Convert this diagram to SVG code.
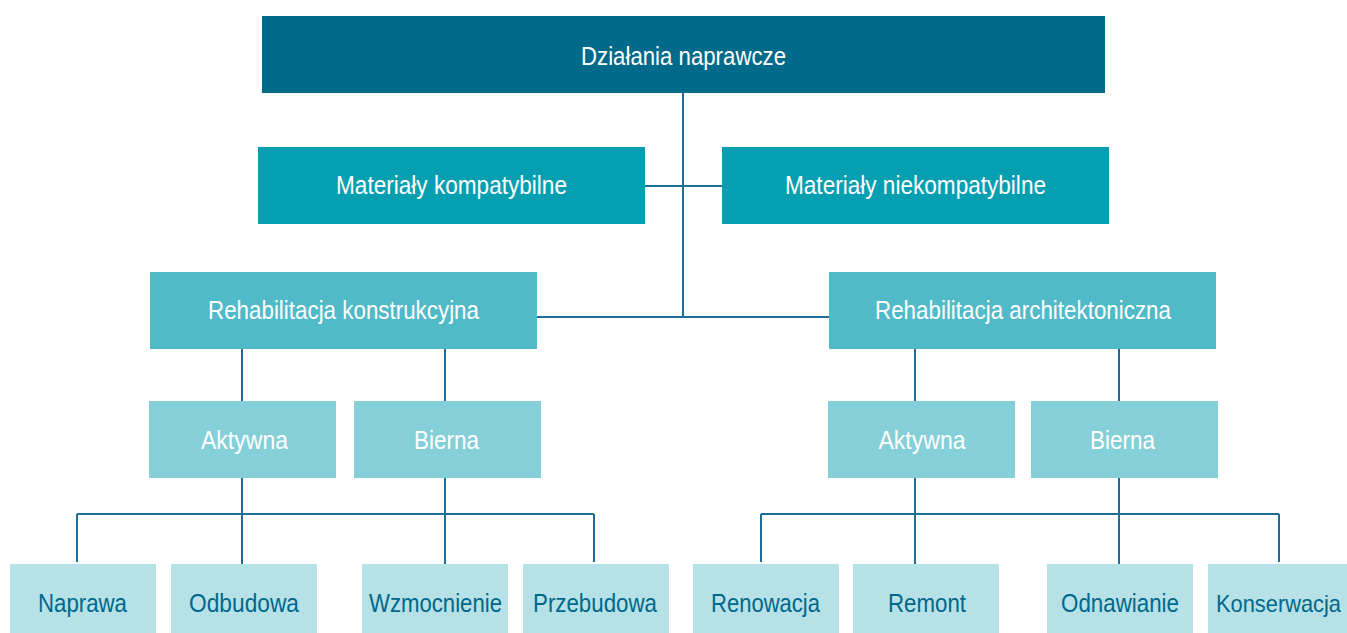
<svg xmlns="http://www.w3.org/2000/svg" width="1347" height="633" viewBox="0 0 1347 633">
<style>
text{font-family:"Liberation Sans Narrow","Liberation Sans",Arial,sans-serif;font-size:25.5px;text-anchor:middle}
.l1{fill:#006a8a}.l2{fill:#069fb1}.l3{fill:#51bac8}.l4{fill:#84cfd8}.l5{fill:#b5e1e7}
.w{fill:#ffffff}.d{fill:#00688a}
.c{stroke:#1f6e99;stroke-width:2;fill:none}
</style>
<rect width="1347" height="633" fill="#ffffff"/>
<g id="connectors" class="c">
<path d="M683 93V317M645 186H722M537 317H829"/>
<path d="M242 349V401M445 349V401M915 349V401M1119 349V401"/>
<path d="M242 478V564M445 478V564M77 514H594M77 514V562M594 514V562"/>
<path d="M915 478V564M1119 478V564M761 514H1279M761 514V562M1279 514V562"/>
</g>
<g id="n-dzialania"><rect class="l1" x="262" y="16" width="843" height="77"/><text class="w" x="683.5" y="65" textLength="205" lengthAdjust="spacingAndGlyphs">Działania naprawcze</text></g>
<g id="n-kompat"><rect class="l2" x="258" y="147" width="387" height="77"/><text class="w" x="451.5" y="194" textLength="231" lengthAdjust="spacingAndGlyphs">Materiały kompatybilne</text></g>
<g id="n-niekompat"><rect class="l2" x="722" y="147" width="387" height="77"/><text class="w" x="915.5" y="194" textLength="261" lengthAdjust="spacingAndGlyphs">Materiały niekompatybilne</text></g>
<g id="n-rehab-konstr"><rect class="l3" x="150" y="272" width="387" height="77"/><text class="w" x="343.5" y="319" textLength="271" lengthAdjust="spacingAndGlyphs">Rehabilitacja konstrukcyjna</text></g>
<g id="n-rehab-arch"><rect class="l3" x="829" y="272" width="387" height="77"/><text class="w" x="1023" y="319" textLength="296" lengthAdjust="spacingAndGlyphs">Rehabilitacja architektoniczna</text></g>
<g id="n-aktywna-l"><rect class="l4" x="149" y="401" width="187" height="77"/><text class="w" x="244.5" y="449" textLength="87" lengthAdjust="spacingAndGlyphs">Aktywna</text></g>
<g id="n-bierna-l"><rect class="l4" x="354" y="401" width="187" height="77"/><text class="w" x="446.5" y="449" textLength="65" lengthAdjust="spacingAndGlyphs">Bierna</text></g>
<g id="n-aktywna-r"><rect class="l4" x="828" y="401" width="187" height="77"/><text class="w" x="922" y="449" textLength="87" lengthAdjust="spacingAndGlyphs">Aktywna</text></g>
<g id="n-bierna-r"><rect class="l4" x="1031" y="401" width="187" height="77"/><text class="w" x="1122.5" y="449" textLength="65" lengthAdjust="spacingAndGlyphs">Bierna</text></g>
<g id="n-naprawa"><rect class="l5" x="10" y="564" width="146" height="69"/><text class="d" x="82.5" y="612" textLength="89" lengthAdjust="spacingAndGlyphs">Naprawa</text></g>
<g id="n-odbudowa"><rect class="l5" x="171" y="564" width="146" height="69"/><text class="d" x="244" y="612" textLength="110" lengthAdjust="spacingAndGlyphs">Odbudowa</text></g>
<g id="n-wzmocnienie"><rect class="l5" x="362" y="564" width="146" height="69"/><text class="d" x="435.5" y="612" textLength="133" lengthAdjust="spacingAndGlyphs">Wzmocnienie</text></g>
<g id="n-przebudowa"><rect class="l5" x="523" y="564" width="146" height="69"/><text class="d" x="595" y="612" textLength="124" lengthAdjust="spacingAndGlyphs">Przebudowa</text></g>
<g id="n-renowacja"><rect class="l5" x="693" y="564" width="146" height="69"/><text class="d" x="765.5" y="612" textLength="109" lengthAdjust="spacingAndGlyphs">Renowacja</text></g>
<g id="n-remont"><rect class="l5" x="853" y="564" width="146" height="69"/><text class="d" x="927" y="612" textLength="78" lengthAdjust="spacingAndGlyphs">Remont</text></g>
<g id="n-odnawianie"><rect class="l5" x="1047" y="564" width="146" height="69"/><text class="d" x="1120" y="612" textLength="118" lengthAdjust="spacingAndGlyphs">Odnawianie</text></g>
<g id="n-konserwacja"><rect class="l5" x="1208" y="564" width="139" height="69"/><text class="d" x="1278.5" y="612" style="font-size:24px" textLength="125" lengthAdjust="spacingAndGlyphs">Konserwacja</text></g>
</svg>
